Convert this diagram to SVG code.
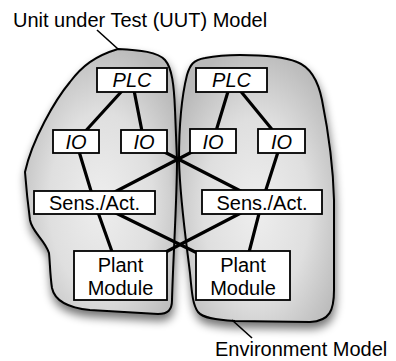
<svg xmlns="http://www.w3.org/2000/svg" width="396" height="361" viewBox="0 0 396 361">
  <defs>
    <radialGradient id="blobFill" cx="0.5" cy="0.58" r="0.62">
      <stop offset="0" stop-color="#eeeeee"/>
      <stop offset="0.55" stop-color="#dfdfdf"/>
      <stop offset="1" stop-color="#b9b9b9"/>
    </radialGradient>
    <filter id="dropShadow" x="-20%" y="-20%" width="140%" height="140%">
      <feGaussianBlur in="SourceAlpha" stdDeviation="5"/>
      <feOffset dx="1" dy="6" result="blur"/>
      <feComponentTransfer>
        <feFuncA type="linear" slope="0.55"/>
      </feComponentTransfer>
      <feMerge>
        <feMergeNode/>
        <feMergeNode in="SourceGraphic"/>
      </feMerge>
    </filter>
    <style>
      .blob { fill: url(#blobFill); stroke: #000; stroke-width: 2; filter: url(#dropShadow); }
      .box { fill: #fff; stroke: #000; stroke-width: 1.8; }
      .link { stroke: #000; stroke-width: 3.2; stroke-linecap: round; fill: none; }
      .leader { stroke: #000; stroke-width: 1.6; fill: none; }
      text { font-family: "Liberation Sans", Arial, Helvetica, sans-serif; font-size: 20px; fill: #000; }
      .lbl { text-anchor: middle; }
      .it { font-style: italic; }
    </style>
  </defs>

  <rect width="396" height="361" fill="#fff"/>

  <!-- model regions -->
  <g id="uut-model">
    <path class="blob" d="M118,49 C140,50 158,52 165,60 C172,68 174,85 175,110 L177,160 C177,200 173,260 172,300 C172,310 168,314 158,314 L90,310 C70,308 55,302 52,288 C50,275 50,262 49,253 C45,240 32,232 30,220 C28,205 26,185 25,172 C32,140 55,100 70,82 C82,66 95,56 118,49 Z"/>
    <text x="13" y="27">Unit under Test (UUT) Model</text>
  </g>
  <g id="environment-model">
    <path class="blob" d="M240,55 C260,55 285,57 297,62 C310,67 318,80 322,100 C328,130 333,160 334,200 L334,290 C334,310 330,321 310,322 L235,321 C215,320 203,318 198,312 C193,305 192,295 190,273 C186,240 180,200 179,160 C179,120 182,95 187,75 C190,65 193,60 205,58 C215,56 228,55 240,55 Z"/>
    <text x="215" y="356">Environment Model</text>
  </g>

  <!-- connectors -->
  <g id="connectors">
    <line class="leader" x1="97" y1="30" x2="118" y2="49"/>
    <line class="leader" x1="232" y1="320" x2="252" y2="338"/>
    <!-- PLC to IO -->
    <line class="link" x1="132" y1="80" x2="76" y2="141.5"/>
    <line class="link" x1="132" y1="80" x2="144" y2="141.5"/>
    <line class="link" x1="231.5" y1="80" x2="213" y2="141"/>
    <line class="link" x1="231.5" y1="80" x2="281.5" y2="141"/>
    <!-- IO to sensors/actuators -->
    <line class="link" x1="76" y1="141.5" x2="94.5" y2="202.5"/>
    <line class="link" x1="144" y1="141.5" x2="262" y2="202"/>
    <line class="link" x1="213" y1="141" x2="94.5" y2="202.5"/>
    <line class="link" x1="281.5" y1="141" x2="262" y2="202"/>
    <!-- sensors/actuators to plant modules -->
    <line class="link" x1="94.5" y1="202.5" x2="120.5" y2="275.5"/>
    <line class="link" x1="94.5" y1="202.5" x2="243" y2="275.5"/>
    <line class="link" x1="262" y1="202" x2="120.5" y2="275.5"/>
    <line class="link" x1="262" y1="202" x2="243" y2="275.5"/>
  </g>

  <!-- UUT side nodes -->
  <g id="plc-uut">
    <rect class="box" x="97" y="68" width="70" height="24"/>
    <text class="lbl it" x="132" y="87">PLC</text>
  </g>
  <g id="io-uut-1">
    <rect class="box" x="53" y="130" width="46" height="23"/>
    <text class="lbl it" x="76" y="149">IO</text>
  </g>
  <g id="io-uut-2">
    <rect class="box" x="121" y="130" width="46" height="23"/>
    <text class="lbl it" x="144" y="149">IO</text>
  </g>
  <g id="sensact-uut">
    <rect class="box" x="34" y="191" width="121" height="23"/>
    <text class="lbl" x="94.5" y="210">Sens./Act.</text>
  </g>
  <g id="plant-uut">
    <rect class="box" x="74" y="251" width="93" height="49"/>
    <text class="lbl" x="120.5" y="272">Plant</text>
    <text class="lbl" x="120.5" y="295">Module</text>
  </g>

  <!-- environment side nodes -->
  <g id="plc-env">
    <rect class="box" x="196" y="68" width="71" height="24"/>
    <text class="lbl it" x="231.5" y="87">PLC</text>
  </g>
  <g id="io-env-1">
    <rect class="box" x="190" y="129" width="46" height="24"/>
    <text class="lbl it" x="213" y="149">IO</text>
  </g>
  <g id="io-env-2">
    <rect class="box" x="258" y="129" width="47" height="24"/>
    <text class="lbl it" x="281.5" y="149">IO</text>
  </g>
  <g id="sensact-env">
    <rect class="box" x="202" y="190" width="120" height="24"/>
    <text class="lbl" x="262" y="210">Sens./Act.</text>
  </g>
  <g id="plant-env">
    <rect class="box" x="196" y="251" width="94" height="49"/>
    <text class="lbl" x="243" y="272">Plant</text>
    <text class="lbl" x="243" y="295">Module</text>
  </g>
</svg>
